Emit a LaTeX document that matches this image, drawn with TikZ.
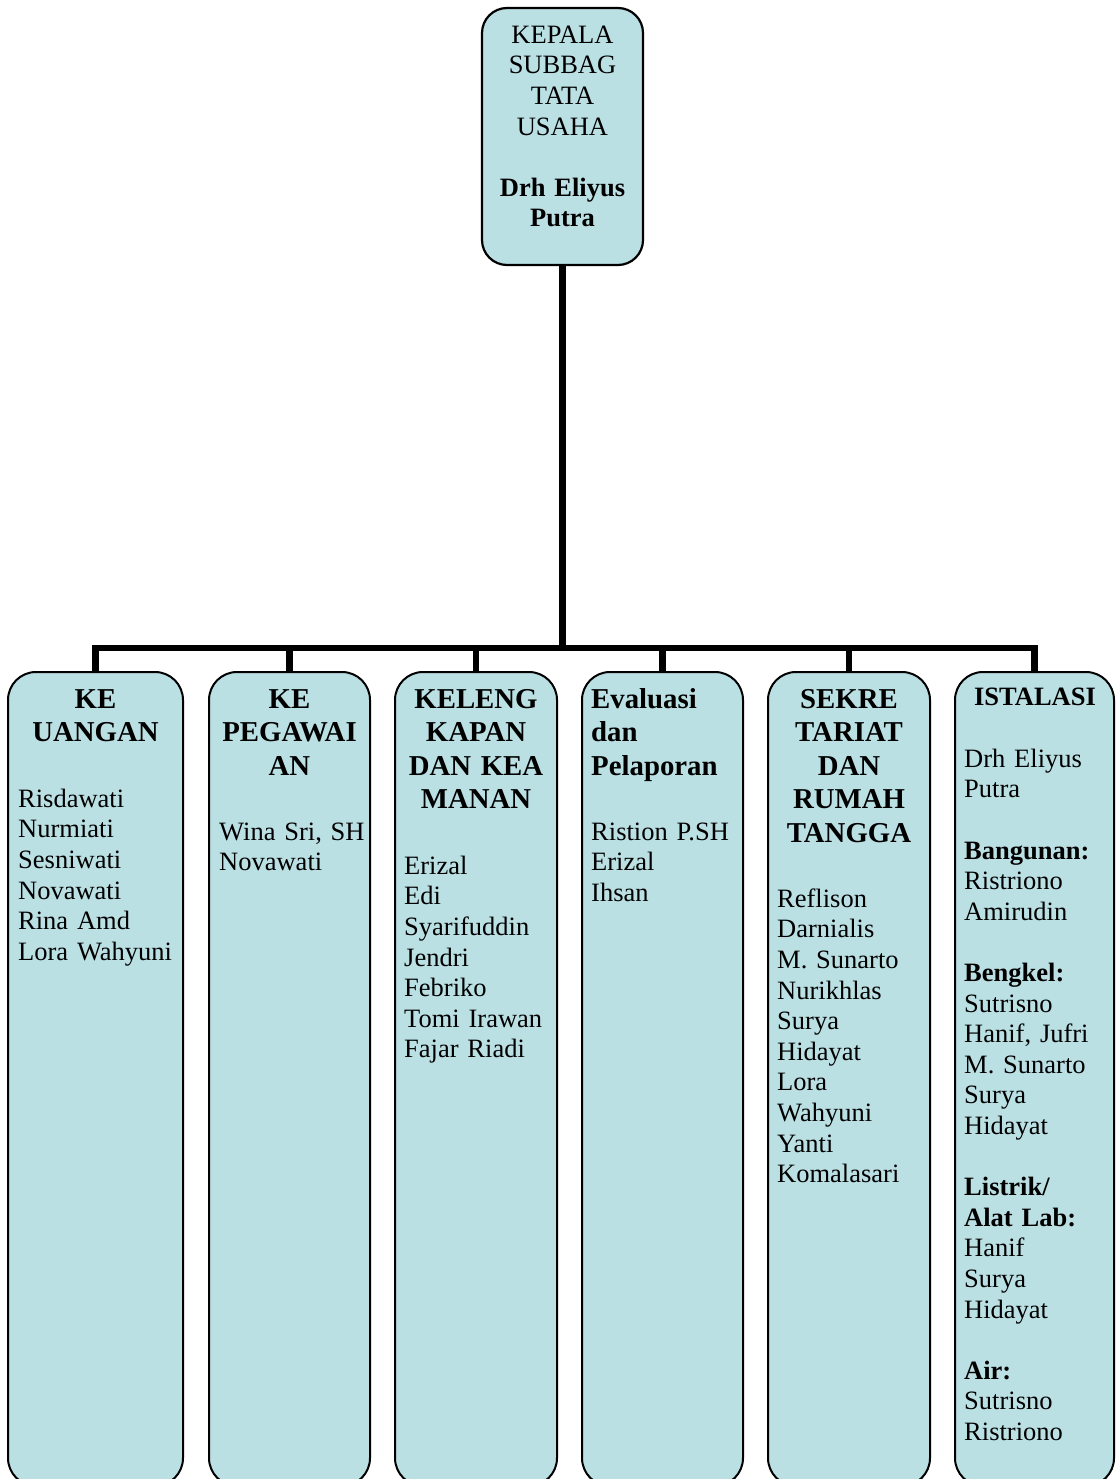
\documentclass[tikz,border=0pt]{standalone}
\usepackage{fontspec}
\setmainfont{Liberation Serif}
\definecolor{boxfill}{RGB}{186,224,228}
\begin{document}
\begin{tikzpicture}[x=1pt,y=-1pt,
  box/.style={draw=black, line width=2pt, fill=boxfill, rounded corners=28pt,
    inner sep=0pt, outer sep=0pt, anchor=north west, minimum height=814pt},
  conn/.style={line width=6.5pt, line join=miter, draw=black},
  headtxt/.style={font=\fontsize{28.8}{33.4}\selectfont\bfseries, align=center,
    text width=158pt, inner sep=0pt, anchor=north},
  bodytxt/.style={font=\fontsize{26.5}{30.6}\selectfont, align=left,
    text width=170pt, inner sep=0pt, anchor=north west},
  toptxt/.style={font=\fontsize{26.5}{30.6}\selectfont, align=center,
    text width=158pt, inner sep=0pt, anchor=north}]
\useasboundingbox (0,0) rectangle (1116,1479);
\clip (0,0) rectangle (1116,1479);

% boxes
\node[box, rounded corners=25pt, line width=2.2pt, minimum width=161pt, minimum height=257pt] (top) at (482,8) {};
\node[box, minimum width=175pt] (b1) at (8,672) {};
\node[box, minimum width=161pt] (b2) at (209,672) {};
\node[box, minimum width=162pt] (b3) at (395,672) {};
\node[box, minimum width=161pt] (b4) at (582,672) {};
\node[box, minimum width=162pt] (b5) at (768,672) {};
\node[box, minimum width=159pt] (b6) at (955,672) {};

% connectors
\coordinate (bus) at (562.5,648);
\draw[conn] (top.south) -- (bus);
\draw[conn] (b1.north) |- (bus);
\draw[conn] (b2.north) |- (bus);
\draw[conn] (b3.north) |- (bus);
\draw[conn] (b4.north) |- (bus);
\draw[conn] (b5.north) |- (bus);
\draw[conn] (b6.north) |- (bus);

% top text
\node[toptxt] (toptitle) at (562.5,21.6)
  {\strut KEPALA\\SUBBAG\\TATA\\USAHA\\[30.6pt]\textbf{Drh Eliyus}\\\textbf{Putra}};

% headings
\node[headtxt] (h1) at (95.5,685) {\strut KE\\UANGAN};
\node[headtxt] (h2) at (289.5,685) {\strut KE\\PEGAWAI\\AN};
\node[headtxt] (h3) at (476,685) {\strut KELENG\\KAPAN\\DAN KEA\\MANAN};
\node[headtxt, align=left, anchor=north west, text width=150pt] (h4) at (591,685) {\strut Evaluasi\\dan\\Pelaporan};
\node[headtxt] (h5) at (849,685) {\strut SEKRE\\TARIAT\\DAN\\RUMAH\\TANGGA};
\node[headtxt, font=\fontsize{26.5}{30.6}\selectfont\bfseries, text width=150pt] (h6) at (1035,683.6) {\strut ISTALASI};

% member lists
\node[bodytxt] (t1) at (18,785.6)
  {\strut Risdawati\\Nurmiati\\Sesniwati\\Novawati\\Rina Amd\\Lora Wahyuni};
\node[bodytxt] (t2) at (219,818.6)
  {\strut Wina Sri, SH\\Novawati};
\node[bodytxt] (t3) at (404,852.6)
  {\strut Erizal\\Edi\\Syarifuddin\\Jendri\\Febriko\\Tomi Irawan\\Fajar Riadi};
\node[bodytxt] (t4) at (591,818.6)
  {\strut Ristion P.SH\\Erizal\\Ihsan};
\node[bodytxt] (t5) at (777,885.6)
  {\strut Reflison\\Darnialis\\M. Sunarto\\Nurikhlas\\Surya\\Hidayat\\Lora\\Wahyuni\\Yanti\\Komalasari};
\node[bodytxt] (t6) at (964,745.6)
  {\strut Drh Eliyus\\Putra\\[30.6pt]\textbf{Bangunan:}\\Ristriono\\Amirudin\\[30.6pt]\textbf{Bengkel:}\\Sutrisno\\Hanif, Jufri\\M. Sunarto\\Surya\\Hidayat\\[30.6pt]\textbf{Listrik/}\\\textbf{Alat Lab:}\\Hanif\\Surya\\Hidayat\\[30.6pt]\textbf{Air:}\\Sutrisno\\Ristriono};
\end{tikzpicture}
\end{document}
